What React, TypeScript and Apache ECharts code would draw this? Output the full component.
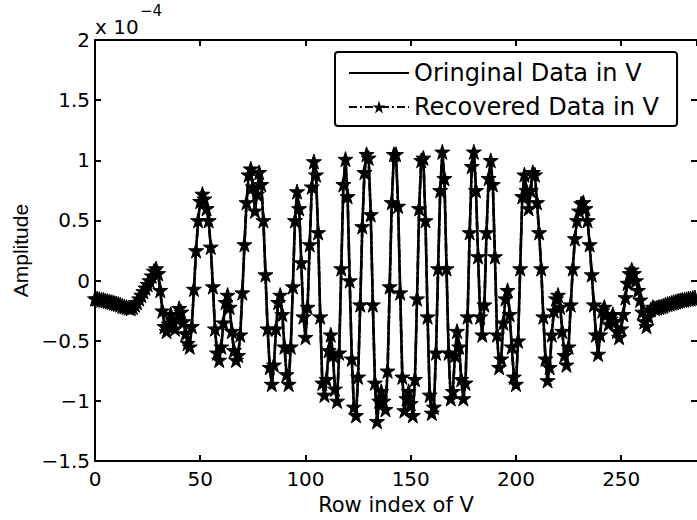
import React, { useEffect, useRef } from "react";
import * as echarts from "echarts";

// Amplitude values (x 10^-4), row index 0..285
const segA = [
  -0.15, -0.15, -0.155, -0.16, -0.16, -0.165, -0.17, -0.175, -0.18, -0.185,
  -0.19, -0.195, -0.2, -0.21, -0.215, -0.22, -0.225, -0.23, -0.22, -0.2,
  -0.18, -0.15, -0.12, -0.09, -0.06, -0.03, 0.0, 0.04, 0.08, 0.1,
  0.06, -0.08, -0.25, -0.38, -0.42, -0.36, -0.28, -0.33, -0.4, -0.32,
  -0.23, -0.26, -0.34, -0.44, -0.52, -0.55, -0.38, -0.07, 0.25, 0.5,
  0.66, 0.72, 0.68, 0.6, 0.5, 0.28, -0.05, -0.4, -0.6, -0.66,
  -0.55, -0.35, -0.18, -0.12, -0.22, -0.42, -0.58, -0.66, -0.62, -0.45,
];
const segB = [
  -0.1, 0.3, 0.65, 0.88, 0.93, 0.78, 0.58, 0.72, 0.9, 0.8,
  0.5, 0.05, -0.4, -0.72, -0.86, -0.7, -0.4, -0.18, -0.12, -0.28,
  -0.55, -0.78, -0.86, -0.55, -0.05, 0.5, 0.74, 0.6, 0.15, -0.3,
  -0.47, -0.22, 0.3, 0.78, 0.99, 0.88, 0.4, -0.3, -0.85, -0.95,
  -0.82, -0.58, -0.45, -0.62, -0.9, -1.0, -0.6, 0.1, 0.8, 1.01,
  0.7, 0.0, -0.65, -1.05, -1.12, -0.8, -0.2, 0.45, 0.9, 1.05,
  1.02, 0.55, -0.2, -0.85, -1.17, -1.0, -0.92, -1.0, -1.07, -0.75,
  -0.05, 0.65, 1.05,
];
const segC = [
  1.05, 0.62, -0.1, -0.8, -1.08, -0.98, -0.92,
  -1.02, -1.12, -0.82, -0.15, 0.6, 1.0, 1.02, 0.5, -0.3, -0.95,
  -1.1, -1.05, -0.6, 0.1, 0.75, 1.07, 0.85, 0.1, -0.6, -0.98,
  -0.92, -0.62, -0.42, -0.55, -0.82, -0.98, -0.85, -0.3, 0.4, 0.95,
  1.07, 0.75, 0.2, -0.3, -0.45, -0.2, 0.4, 0.85, 1.0, 0.8,
  0.2, -0.45, -0.72, -0.65, -0.35, -0.15, -0.08, -0.28, -0.55, -0.8,
  -0.86, -0.5, 0.1, 0.7, 0.88, 0.75, 0.6, 0.75, 0.9, 0.88,
];
const segD = [
  0.65, 0.4, 0.1, -0.3, -0.65, -0.83, -0.72, -0.45, -0.25, -0.15,
  -0.12, -0.22, -0.42, -0.62, -0.7, -0.55, -0.2, 0.1, 0.35, 0.5,
  0.58, 0.64, 0.65, 0.6, 0.5, 0.3, 0.05, -0.2, -0.45, -0.61,
  -0.45, -0.25, -0.22, -0.28, -0.36, -0.32, -0.28, -0.34, -0.42, -0.47,
  -0.4, -0.28, -0.14, -0.02, 0.06, 0.09, 0.06, 0.0, -0.08, -0.16,
  -0.26, -0.34, -0.38, -0.3, -0.24, -0.22, -0.23, -0.225, -0.22, -0.215,
  -0.21, -0.2, -0.195, -0.19, -0.185, -0.18, -0.175, -0.17, -0.165, -0.16,
  -0.16, -0.155, -0.15, -0.15, -0.145, -0.14,
];
const originalData = [...segA, ...segB, ...segC, ...segD];
const recoveredData = [...originalData];

const xTicks = [0, 50, 100, 150, 200, 250];
const yTicks = [-1.5, -1, -0.5, 0, 0.5, 1, 1.5, 2];
const seriesNames = ["Oringinal Data in V", "Recovered Data in V"];

const STAR =
  "path://M50,2 L61.2,36.5 L97.5,36.5 L68.2,57.9 L79.4,92.4 L50,71 L20.6,92.4 L31.8,57.9 L2.5,36.5 L38.8,36.5 Z";

export default function App() {
  const ref = useRef<HTMLDivElement>(null);
  useEffect(() => {
    if (!ref.current) return;
    const chart = echarts.init(ref.current, null, { renderer: "svg" });
    const pairs = (arr: number[]) => arr.map((v, i) => [i, v]);
    const fmtY = (v: number) => String(v).replace("-", "\u2212");
    chart.setOption({
      animation: false,
      backgroundColor: "#ffffff",
      grid: { left: 95, top: 40, right: 0, bottom: 56 },
      legend: {
        left: 335,
        top: 52,
        orient: "vertical",
        data: [
          { name: seriesNames[0], itemStyle: { opacity: 0 } },
          { name: seriesNames[1] },
        ],
        itemWidth: 60,
        itemHeight: 16,
        itemGap: 10,
        padding: [9, 18, 7, 13],
        borderColor: "#000",
        borderWidth: 2,
        borderRadius: 3,
        backgroundColor: "#fff",
        textStyle: { fontFamily: "DejaVu Sans", fontSize: 24, color: "#000" },
      },
      xAxis: [
        {
          type: "value",
          min: 0,
          max: 286,
          interval: 50,
          name: "Row index of V",
          nameLocation: "middle",
          nameGap: 32,
          nameTextStyle: { fontFamily: "DejaVu Sans", fontSize: 21, color: "#000" },
          axisLine: { show: true, onZero: false, lineStyle: { color: "#000", width: 2 } },
          axisTick: { show: true, inside: true, length: 6, lineStyle: { color: "#000", width: 2 } },
          axisLabel: {
            margin: 8,
            fontFamily: "DejaVu Sans",
            fontSize: 20,
            color: "#000",
            showMaxLabel: false,
            formatter: (v: number) => (xTicks.includes(v) ? String(v) : ""),
          },
          splitLine: { show: false },
        },
        {
          type: "value",
          position: "top",
          min: 0,
          max: 286,
          interval: 50,
          axisLine: { show: true, onZero: false, lineStyle: { color: "#000", width: 2 } },
          axisTick: { show: true, inside: true, length: 6, lineStyle: { color: "#000", width: 2 } },
          axisLabel: { show: false },
          splitLine: { show: false },
        },
      ],
      yAxis: [
        {
          type: "value",
          min: -1.5,
          max: 2,
          interval: 0.5,
          name: "Amplitude",
          nameLocation: "middle",
          nameGap: 64,
          nameTextStyle: { fontFamily: "Liberation Sans", fontSize: 21, color: "#000" },
          axisLine: { show: true, onZero: false, lineStyle: { color: "#000", width: 2 } },
          axisTick: { show: true, inside: true, length: 6, lineStyle: { color: "#000", width: 2 } },
          axisLabel: {
            margin: 5,
            fontFamily: "DejaVu Sans",
            fontSize: 20,
            color: "#000",
            formatter: (v: number) => (yTicks.includes(v) ? fmtY(v) : ""),
          },
          splitLine: { show: false },
        },
        {
          type: "value",
          position: "right",
          min: -1.5,
          max: 2,
          interval: 0.5,
          axisLine: { show: false, onZero: false },
          axisTick: { show: true, inside: true, length: 6, lineStyle: { color: "#000", width: 2 } },
          axisLabel: { show: false },
          splitLine: { show: false },
        },
      ],
      graphic: [
        {
          type: "text",
          left: 95,
          top: 17,
          style: { text: "x 10", font: "20px 'DejaVu Sans'", fill: "#000" },
        },
        {
          type: "text",
          left: 140,
          top: 3,
          style: { text: "\u22124", font: "15px 'DejaVu Sans'", fill: "#000" },
        },
      ],
      series: [
        {
          name: seriesNames[0],
          type: "line",
          data: pairs(originalData),
          symbol: "none",
          lineStyle: { color: "#000", width: 2.6 },
          itemStyle: { color: "#000" },
          z: 2,
        },
        {
          name: seriesNames[1],
          type: "line",
          data: pairs(recoveredData),
          symbol: STAR,
          symbolSize: 15,
          showSymbol: true,
          lineStyle: { color: "#000", width: 2.6, type: [8, 3, 2, 3] },
          itemStyle: { color: "#000", borderColor: "#000" },
          z: 3,
        },
      ],
    });
    return () => chart.dispose();
  }, []);
  return (
    <div
      ref={ref}
      style={{ position: "fixed", left: 0, top: 0, width: 697, height: 520, background: "#fff" }}
    />
  );
}
